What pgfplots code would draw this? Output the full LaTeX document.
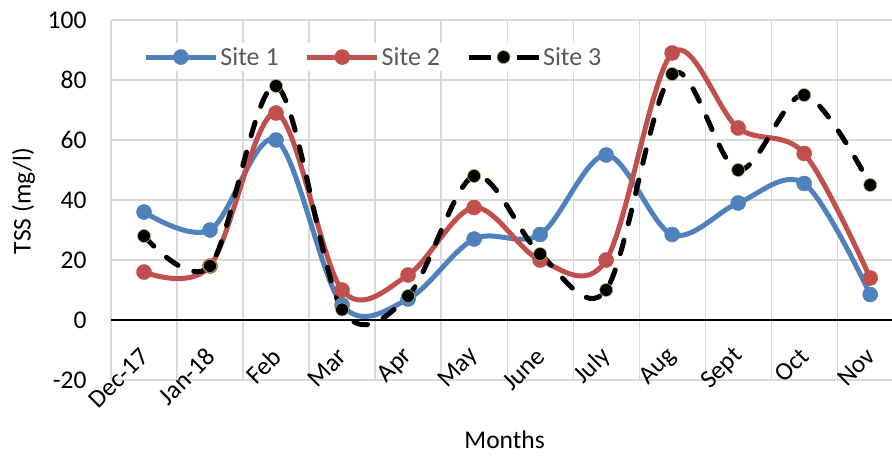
\documentclass[border=0pt]{standalone}
\usepackage{pgfplots}
\pgfplotsset{compat=1.18}
\usepackage{fontspec}
\setmainfont{Carlito}
\definecolor{sone}{HTML}{4F81BD}
\definecolor{stwo}{HTML}{C0504D}
\definecolor{gridgray}{HTML}{D9D9D9}
\definecolor{legtext}{HTML}{595959}
\definecolor{edgegreen}{HTML}{9BBB59}
\begin{document}
\begin{tikzpicture}
\begin{axis}[
  name=ax,
  scale only axis, width=781pt, height=360pt,
  xmin=-0.5, xmax=11.33, ymin=-20, ymax=100,
  axis x line*=middle, axis y line*=left,
  x axis line style={black, line width=1.5pt},
  y axis line style={draw=none},
  xtick={0,...,11},
  xticklabels={Dec-17,Jan-18,Feb,Mar,Apr,May,June,July,Aug,Sept,Oct,Nov},
  minor xtick={-0.5,0.5,...,10.5},
  xminorgrids=true, xmajorgrids=false, ymajorgrids=true,
  ytick={-20,0,20,40,60,80,100},
  major tick length=0pt, minor tick length=0pt,
  grid style={gridgray, line width=1.2pt},
  minor grid style={gridgray, line width=1.2pt},
  tick label style={font=\fontsize{25.5}{29}\selectfont, black},
  /pgf/number format/assume math mode=true,
  xticklabel style={xshift=3pt, yshift=-30pt, rotate=45, anchor=east},
  yticklabel style={xshift=-21pt},
  xlabel={Months},
  ylabel={TSS (mg/l)},
  x label style={at={(axis description cs:0.504,-0.167)}, anchor=center, font=\fontsize{25.5}{29}\selectfont},
  y label style={at={(axis description cs:-0.112,0.497)}, anchor=center, rotate=0, font=\fontsize{25.5}{29}\selectfont},
  legend style={at={(axis description cs:0.336,0.897)}, anchor=center, draw=none, fill=white,
    font=\fontsize{26}{30}\selectfont, text=legtext,
    /tikz/every even column/.append style={column sep=24pt}},
  legend columns=3,
  legend image code/.code={\draw[mark repeat=2,mark phase=2] plot coordinates {(0pt,0pt) (35pt,0pt) (70pt,0pt)};},
  clip=false,
]
\addplot[sone, line width=5pt, smooth, tension=0.55, mark=*, mark size=7.5pt, mark options={solid, line width=0.5pt}] coordinates {
 (0,36) (1,30) (2,60) (3,5) (4,7) (5,27) (6,28.5) (7,55) (8,28.5) (9,39) (10,45.5) (11,8.5)
};
\addlegendentry{Site 1}
\addplot[stwo, line width=5pt, smooth, tension=0.55, mark=*, mark size=7.5pt, mark options={solid, line width=0.5pt}] coordinates {
 (0,16) (1,18) (2,69) (3,10) (4,15) (5,37.5) (6,20) (7,20) (8,89) (9,64) (10,55.5) (11,14)
};
\addlegendentry{Site 2}
\addplot[black, line width=5pt, smooth, tension=0.55, line cap=round, dash pattern=on 14pt off 17pt, mark=*, mark size=6.5pt, mark options={solid, fill=black, draw=edgegreen, line width=0.6pt},
  legend image code/.code={\draw[mark repeat=2,mark phase=2, line cap=butt, dash pattern=on 22pt off 26pt] plot coordinates {(0pt,0pt) (35pt,0pt) (70pt,0pt)};}] coordinates {
 (0,28) (1,18) (2,78) (3,3.5) (4,8) (5,48) (6,22) (7,10) (8,82) (9,50) (10,75) (11,45)
};
\addlegendentry{Site 3}
\end{axis}
\pgfresetboundingbox
\path ([shift={(-111pt,-79pt)}]ax.south west) rectangle ([shift={(0pt,20pt)}]ax.north east);
\end{tikzpicture}
\end{document}
